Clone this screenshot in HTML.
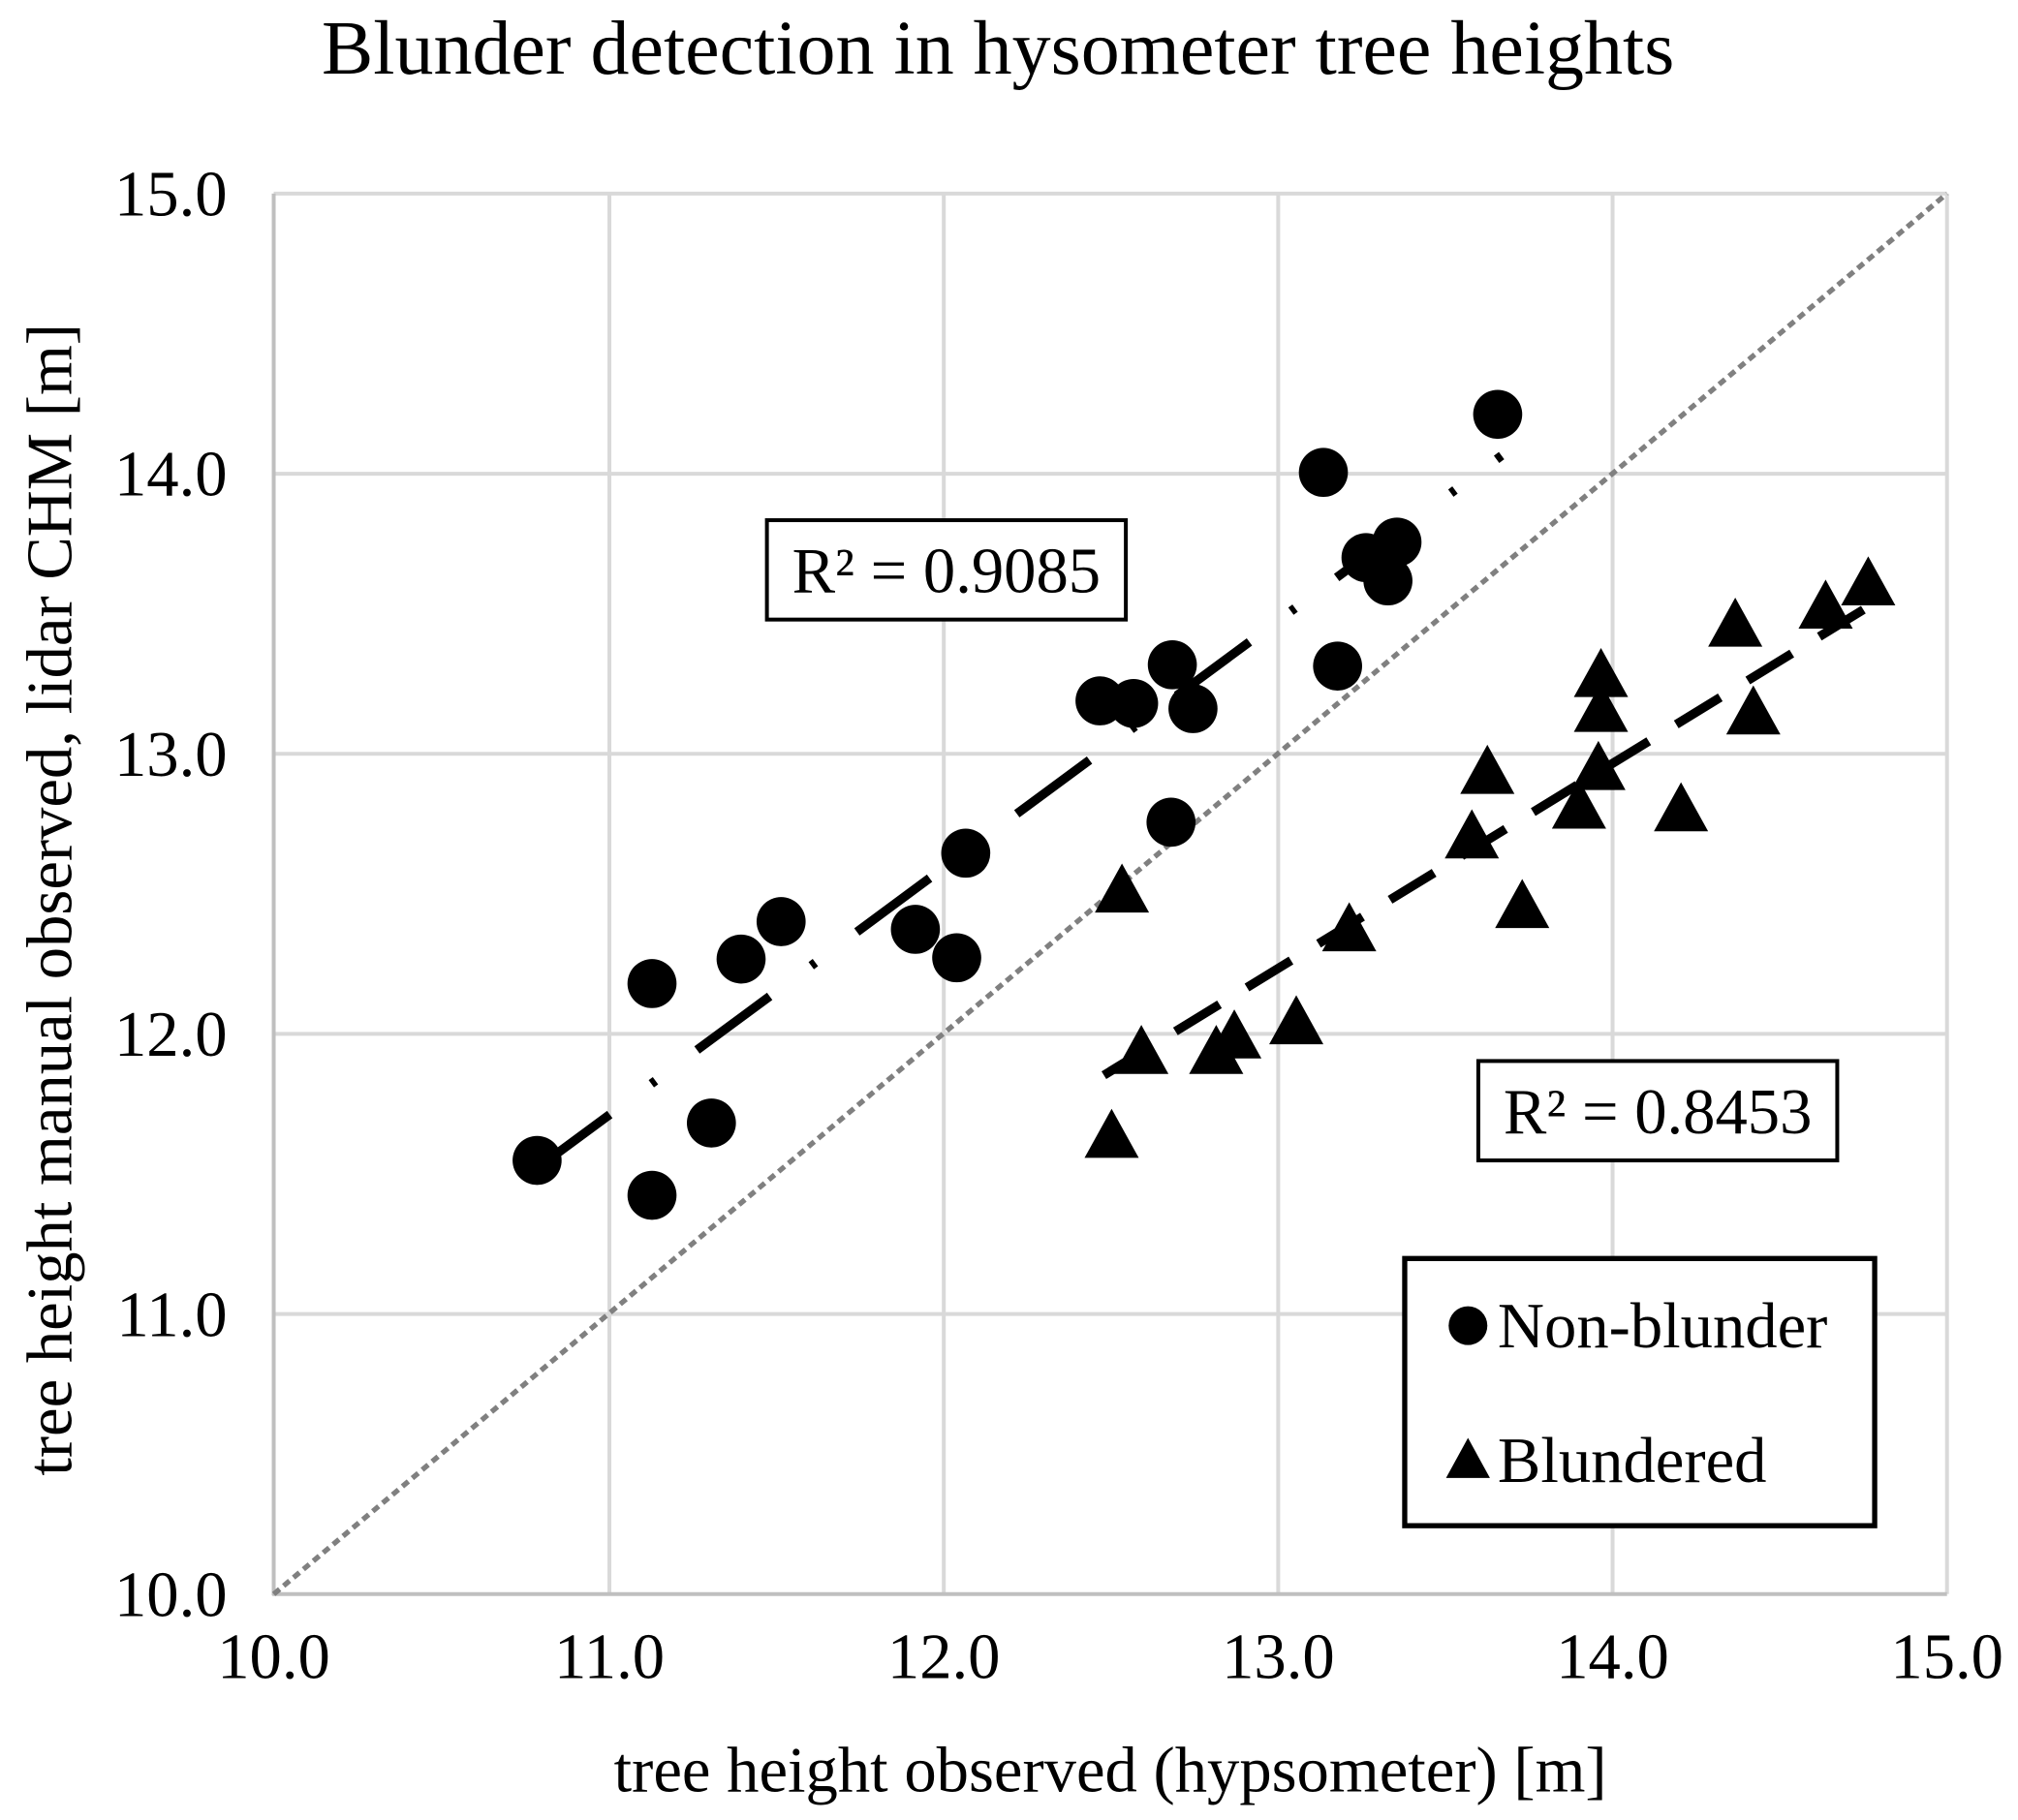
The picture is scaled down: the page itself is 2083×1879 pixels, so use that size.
<!DOCTYPE html>
<html><head><meta charset="utf-8"><style>html,body{margin:0;padding:0;background:#fff}svg{display:block}</style></head>
<body>
<svg width="2083" height="1879" viewBox="0 0 1563 1410" preserveAspectRatio="none" xmlns="http://www.w3.org/2000/svg" font-family="'Liberation Serif',serif">
<rect width="1563" height="1410" fill="#fff"/>
<text x="773" y="57" font-size="60" text-anchor="middle">Blunder detection in hysometer tree heights</text>
<g stroke="#d9d9d9" stroke-width="3">
<line x1="472" y1="150" x2="472" y2="1235"/><line x1="731" y1="150" x2="731" y2="1235"/><line x1="990" y1="150" x2="990" y2="1235"/><line x1="1249" y1="150" x2="1249" y2="1235"/><line x1="1508" y1="150" x2="1508" y2="1235"/>
<line x1="212" y1="150" x2="1508" y2="150"/><line x1="212" y1="367" x2="1508" y2="367"/><line x1="212" y1="584" x2="1508" y2="584"/><line x1="212" y1="801" x2="1508" y2="801"/><line x1="212" y1="1018" x2="1508" y2="1018"/>
</g>
<g stroke="#bfbfbf" stroke-width="3"><line x1="212" y1="150" x2="212" y2="1236"/><line x1="211" y1="1235" x2="1508" y2="1235"/></g>
<g font-size="50" text-anchor="end">
<text x="176" y="167">15.0</text><text x="176" y="384">14.0</text><text x="176" y="601">13.0</text><text x="176" y="818">12.0</text><text x="176" y="1035">11.0</text><text x="176" y="1252">10.0</text>
</g>
<g font-size="50" text-anchor="middle">
<text x="212" y="1300">10.0</text><text x="472" y="1300">11.0</text><text x="731" y="1300">12.0</text><text x="990" y="1300">13.0</text><text x="1249" y="1300">14.0</text><text x="1508" y="1300">15.0</text>
</g>
<text x="860" y="1388" font-size="50" text-anchor="middle">tree height observed (hypsometer) [m]</text>
<text transform="translate(55,697) rotate(-90)" font-size="50" text-anchor="middle">tree height manual observed, lidar CHM [m]</text>
<line x1="212" y1="1235" x2="1508" y2="150" stroke="#808080" stroke-width="4" stroke-dasharray="6,4"/>
<line x1="416" y1="905" x2="1163" y2="353" stroke="#000" stroke-width="7" stroke-dasharray="70,40,4,40"/>
<line x1="855" y1="833" x2="1447" y2="470" stroke="#000" stroke-width="7" stroke-dasharray="40,25"/>
<g fill="#000">
<circle cx="416" cy="899" r="19"/><circle cx="505" cy="762" r="19"/><circle cx="505" cy="926" r="19"/><circle cx="551" cy="870" r="19"/><circle cx="574" cy="743" r="19"/><circle cx="605" cy="714" r="19"/><circle cx="709" cy="720" r="19"/><circle cx="741" cy="742" r="19"/><circle cx="748" cy="661" r="19"/><circle cx="852" cy="543" r="19"/><circle cx="878" cy="545" r="19"/><circle cx="908" cy="515" r="19"/><circle cx="924" cy="549" r="19"/><circle cx="907" cy="637" r="19"/><circle cx="1025" cy="366" r="19"/><circle cx="1036" cy="516" r="19"/><circle cx="1058" cy="432" r="19"/><circle cx="1075" cy="450" r="19"/><circle cx="1082" cy="420" r="19"/><circle cx="1160" cy="321" r="19"/>
</g>
<g fill="#000">
<path d="M861 859 l21 38 h-42z"/><path d="M869 669 l21 38 h-42z"/><path d="M884 794 l21 38 h-42z"/><path d="M942 794 l21 38 h-42z"/><path d="M956 782 l21 38 h-42z"/><path d="M1004 771 l21 38 h-42z"/><path d="M1045 699 l21 38 h-42z"/><path d="M1140 627 l21 38 h-42z"/><path d="M1152 577 l21 38 h-42z"/><path d="M1179 681 l21 38 h-42z"/><path d="M1223 604 l21 38 h-42z"/><path d="M1238 574 l21 38 h-42z"/><path d="M1240 529 l21 38 h-42z"/><path d="M1240 502 l21 38 h-42z"/><path d="M1302 606 l21 38 h-42z"/><path d="M1344 463 l21 38 h-42z"/><path d="M1358 531 l21 38 h-42z"/><path d="M1414 449 l21 38 h-42z"/><path d="M1447 431 l21 38 h-42z"/>
</g>
<rect x="594" y="403" width="278" height="77" fill="#fff" stroke="#000" stroke-width="3"/>
<text x="733" y="459" font-size="50" text-anchor="middle">R² = 0.9085</text>
<rect x="1145" y="822" width="278" height="77" fill="#fff" stroke="#000" stroke-width="3"/>
<text x="1284" y="878" font-size="50" text-anchor="middle">R² = 0.8453</text>
<rect x="1088" y="975" width="364" height="207" fill="#fff" stroke="#000" stroke-width="4"/>
<circle cx="1137" cy="1027" r="15" fill="#000"/>
<text x="1160" y="1044" font-size="50">Non-blunder</text>
<path d="M1137 1114 l17 31 h-34z" fill="#000"/>
<text x="1160" y="1148" font-size="50">Blundered</text>
</svg>
</body></html>
